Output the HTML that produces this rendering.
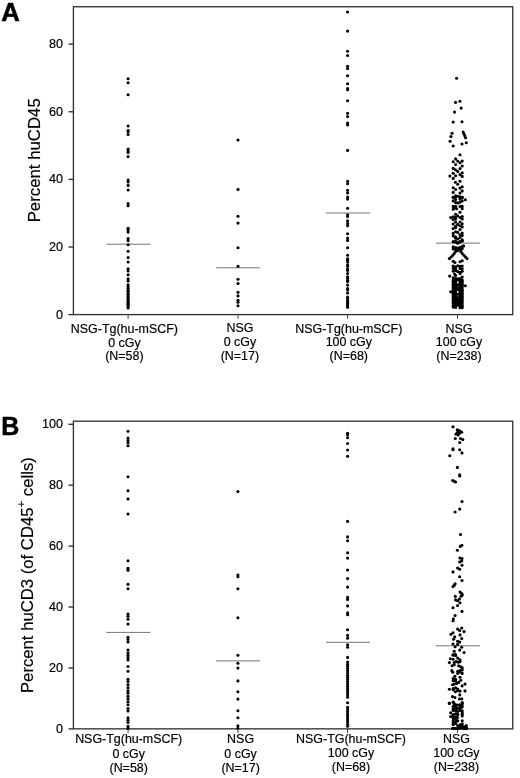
<!DOCTYPE html>
<html lang="en"><head><meta charset="utf-8"><title>Figure</title>
<style>html,body{margin:0;padding:0;background:#fff}svg{display:block}</style></head>
<body>
<svg width="520" height="778" viewBox="0 0 520 778">
<rect width="520" height="778" fill="#fff"/>
<g fill="none" stroke="#333" stroke-width="1.35">
<rect x="73.4" y="6.75" width="439.35" height="307.85"/>
<line x1="68.5" y1="314.6" x2="73.4" y2="314.6"/>
<line x1="68.5" y1="246.98800000000003" x2="73.4" y2="246.98800000000003"/>
<line x1="68.5" y1="179.37600000000003" x2="73.4" y2="179.37600000000003"/>
<line x1="68.5" y1="111.76400000000004" x2="73.4" y2="111.76400000000004"/>
<line x1="68.5" y1="44.152000000000044" x2="73.4" y2="44.152000000000044"/>
<line x1="128.1" y1="314.6" x2="128.1" y2="318.8" stroke-width="1" stroke="#444"/>
<line x1="238.0" y1="314.6" x2="238.0" y2="318.8" stroke-width="1" stroke="#444"/>
<line x1="347.6" y1="314.6" x2="347.6" y2="318.8" stroke-width="1" stroke="#444"/>
<line x1="457.5" y1="314.6" x2="457.5" y2="318.8" stroke-width="1" stroke="#444"/>
<rect x="73.4" y="421.2" width="439.35" height="307.65000000000003"/>
<line x1="68.5" y1="728.85" x2="73.4" y2="728.85"/>
<line x1="68.5" y1="667.94" x2="73.4" y2="667.94"/>
<line x1="68.5" y1="607.03" x2="73.4" y2="607.03"/>
<line x1="68.5" y1="546.12" x2="73.4" y2="546.12"/>
<line x1="68.5" y1="485.21000000000004" x2="73.4" y2="485.21000000000004"/>
<line x1="68.5" y1="424.3" x2="73.4" y2="424.3"/>
<line x1="128.1" y1="728.85" x2="128.1" y2="733.0500000000001" stroke-width="1" stroke="#444"/>
<line x1="238.0" y1="728.85" x2="238.0" y2="733.0500000000001" stroke-width="1" stroke="#444"/>
<line x1="347.6" y1="728.85" x2="347.6" y2="733.0500000000001" stroke-width="1" stroke="#444"/>
<line x1="457.5" y1="728.85" x2="457.5" y2="733.0500000000001" stroke-width="1" stroke="#444"/>
</g>
<line x1="106.3" y1="244.2" x2="150.3" y2="244.2" stroke="#5c5c5c" stroke-width="0.85"/>
<line x1="216.2" y1="267.8" x2="260.1" y2="267.8" stroke="#5c5c5c" stroke-width="0.85"/>
<line x1="326" y1="213.0" x2="370" y2="213.0" stroke="#777" stroke-width="1.0"/>
<line x1="436" y1="243.1" x2="480" y2="243.1" stroke="#5c5c5c" stroke-width="0.85"/>
<line x1="106.2" y1="632.4" x2="150.4" y2="632.4" stroke="#5c5c5c" stroke-width="0.85"/>
<line x1="216.2" y1="660.9" x2="260.1" y2="660.9" stroke="#5c5c5c" stroke-width="0.85"/>
<line x1="326" y1="642.3" x2="370" y2="642.3" stroke="#5c5c5c" stroke-width="0.85"/>
<line x1="435.7" y1="645.8" x2="480" y2="645.8" stroke="#5c5c5c" stroke-width="0.85"/>
<g fill="#000">
<circle cx="128.1" cy="78.8" r="1.55"/><circle cx="128.1" cy="82.7" r="1.55"/><circle cx="128.1" cy="94.8" r="1.55"/><circle cx="128.1" cy="126" r="1.55"/><circle cx="128.1" cy="130.6" r="1.55"/><circle cx="128.1" cy="131.8" r="1.55"/><circle cx="128.1" cy="134.5" r="1.55"/><circle cx="128.1" cy="149.1" r="1.55"/><circle cx="128.1" cy="150.9" r="1.55"/><circle cx="128.1" cy="152.5" r="1.55"/><circle cx="128.1" cy="156.6" r="1.55"/><circle cx="128.1" cy="180" r="1.55"/><circle cx="128.1" cy="182" r="1.55"/><circle cx="128.1" cy="185.4" r="1.55"/><circle cx="128.1" cy="190" r="1.55"/><circle cx="128.1" cy="203.6" r="1.55"/><circle cx="128.1" cy="205.8" r="1.55"/><circle cx="128.1" cy="228.3" r="1.55"/><circle cx="128.1" cy="230.1" r="1.55"/><circle cx="128.1" cy="232.1" r="1.55"/><circle cx="128.1" cy="238.6" r="1.55"/><circle cx="128.1" cy="240.6" r="1.55"/><circle cx="128.1" cy="244.8" r="1.55"/><circle cx="128.1" cy="251.2" r="1.55"/><circle cx="128.1" cy="257.6" r="1.55"/><circle cx="128.1" cy="262" r="1.55"/><circle cx="128.1" cy="268.7" r="1.55"/><circle cx="128.1" cy="271" r="1.55"/><circle cx="128.1" cy="274.8" r="1.55"/><circle cx="128.1" cy="278.9" r="1.55"/><circle cx="128.1" cy="280.9" r="1.55"/><circle cx="128.1" cy="284.7" r="1.55"/><circle cx="128.1" cy="286.7" r="1.55"/><circle cx="128.1" cy="288.6" r="1.55"/><circle cx="128.1" cy="290" r="1.55"/><circle cx="128.1" cy="291.2" r="1.55"/><circle cx="128.1" cy="293.4" r="1.55"/><circle cx="128.1" cy="294.6" r="1.55"/><circle cx="128.1" cy="295.8" r="1.55"/><circle cx="128.1" cy="297" r="1.55"/><circle cx="128.1" cy="298.2" r="1.55"/><circle cx="128.1" cy="300.2" r="1.55"/><circle cx="128.1" cy="301.4" r="1.55"/><circle cx="128.1" cy="302.6" r="1.55"/><circle cx="128.1" cy="303.6" r="1.55"/><circle cx="128.1" cy="304.6" r="1.55"/><circle cx="128.1" cy="305.8" r="1.55"/><circle cx="128.1" cy="307" r="1.55"/><circle cx="128.1" cy="308" r="1.55"/>
<circle cx="238.0" cy="140" r="1.55"/><circle cx="238.0" cy="189.4" r="1.55"/><circle cx="238.0" cy="216.3" r="1.55"/><circle cx="238.0" cy="223.1" r="1.55"/><circle cx="238.0" cy="247.7" r="1.55"/><circle cx="238.0" cy="266.2" r="1.55"/><circle cx="238.0" cy="279.2" r="1.55"/><circle cx="238.0" cy="283.5" r="1.55"/><circle cx="238.0" cy="292.3" r="1.55"/><circle cx="238.0" cy="295.9" r="1.55"/><circle cx="238.0" cy="300.3" r="1.55"/><circle cx="238.0" cy="302.3" r="1.55"/><circle cx="238.0" cy="305.8" r="1.55"/>
<circle cx="347.6" cy="12" r="1.55"/><circle cx="347.6" cy="31.1" r="1.55"/><circle cx="347.6" cy="51.3" r="1.55"/><circle cx="347.6" cy="55.5" r="1.55"/><circle cx="347.6" cy="66.3" r="1.55"/><circle cx="347.6" cy="68.6" r="1.55"/><circle cx="347.6" cy="75.8" r="1.55"/><circle cx="347.6" cy="83.7" r="1.55"/><circle cx="347.6" cy="88.6" r="1.55"/><circle cx="347.6" cy="89.7" r="1.55"/><circle cx="347.6" cy="100.7" r="1.55"/><circle cx="347.6" cy="113.2" r="1.55"/><circle cx="347.6" cy="116.6" r="1.55"/><circle cx="347.6" cy="123.1" r="1.55"/><circle cx="347.6" cy="125" r="1.55"/><circle cx="347.6" cy="150.4" r="1.55"/><circle cx="347.6" cy="181.2" r="1.55"/><circle cx="347.6" cy="183.7" r="1.55"/><circle cx="347.6" cy="190.2" r="1.55"/><circle cx="347.6" cy="192.9" r="1.55"/><circle cx="347.6" cy="197.1" r="1.55"/><circle cx="347.6" cy="199.1" r="1.55"/><circle cx="347.6" cy="208.3" r="1.55"/><circle cx="347.6" cy="214.8" r="1.55"/><circle cx="347.6" cy="216.5" r="1.55"/><circle cx="347.6" cy="220.9" r="1.55"/><circle cx="347.6" cy="223.6" r="1.55"/><circle cx="347.6" cy="225.7" r="1.55"/><circle cx="347.6" cy="233.8" r="1.55"/><circle cx="347.6" cy="238.1" r="1.55"/><circle cx="347.6" cy="240.4" r="1.55"/><circle cx="347.6" cy="247.8" r="1.55"/><circle cx="347.6" cy="255.2" r="1.55"/><circle cx="347.6" cy="258.7" r="1.55"/><circle cx="347.6" cy="260.3" r="1.55"/><circle cx="347.6" cy="262" r="1.55"/><circle cx="347.6" cy="264.7" r="1.55"/><circle cx="347.6" cy="266.2" r="1.55"/><circle cx="347.6" cy="269.1" r="1.55"/><circle cx="347.6" cy="270.5" r="1.55"/><circle cx="347.6" cy="273.5" r="1.55"/><circle cx="347.6" cy="276.8" r="1.55"/><circle cx="347.6" cy="278.2" r="1.55"/><circle cx="347.6" cy="280.3" r="1.55"/><circle cx="347.6" cy="281.5" r="1.55"/><circle cx="347.6" cy="285.1" r="1.55"/><circle cx="347.6" cy="288.6" r="1.55"/><circle cx="347.6" cy="290" r="1.55"/><circle cx="347.6" cy="293" r="1.55"/><circle cx="347.6" cy="297" r="1.55"/><circle cx="347.6" cy="298.5" r="1.55"/><circle cx="347.6" cy="300.6" r="1.55"/><circle cx="347.6" cy="302" r="1.55"/><circle cx="347.6" cy="303.4" r="1.55"/><circle cx="347.6" cy="304.8" r="1.55"/><circle cx="347.6" cy="306" r="1.55"/><circle cx="347.6" cy="307.2" r="1.55"/>
<circle cx="456.6" cy="78.2" r="1.55"/><circle cx="455.5" cy="102.4" r="1.55"/><circle cx="459.9" cy="101.3" r="1.55"/><circle cx="461.2" cy="108.1" r="1.55"/><circle cx="454.5" cy="112.1" r="1.55"/><circle cx="453.2" cy="122.1" r="1.55"/><circle cx="462" cy="121.7" r="1.55"/><circle cx="452.1" cy="133.2" r="1.55"/><circle cx="463.2" cy="132.1" r="1.55"/><circle cx="464" cy="134" r="1.55"/><circle cx="464.8" cy="135.8" r="1.55"/><circle cx="465.6" cy="137.8" r="1.55"/><circle cx="450.9" cy="136.6" r="1.55"/><circle cx="450.1" cy="141.2" r="1.55"/><circle cx="466.3" cy="142.8" r="1.55"/><circle cx="462" cy="144" r="1.55"/><circle cx="453.2" cy="146" r="1.55"/><circle cx="460.0" cy="154.7" r="1.55"/><circle cx="455.6" cy="158.9" r="1.55"/><circle cx="453.2" cy="161.8" r="1.55"/><circle cx="457.7" cy="161.1" r="1.55"/><circle cx="462.2" cy="161.1" r="1.55"/><circle cx="460.0" cy="162.8" r="1.55"/><circle cx="455.6" cy="164.6" r="1.55"/><circle cx="462.2" cy="166.0" r="1.55"/><circle cx="453.2" cy="168.4" r="1.55"/><circle cx="460.0" cy="168.6" r="1.55"/><circle cx="455.4" cy="169.8" r="1.55"/><circle cx="457.7" cy="171.4" r="1.55"/><circle cx="453.2" cy="173.2" r="1.55"/><circle cx="462.2" cy="172.7" r="1.55"/><circle cx="460.0" cy="174.6" r="1.55"/><circle cx="449.9" cy="176.1" r="1.55"/><circle cx="455.6" cy="175.8" r="1.55"/><circle cx="462.2" cy="176.4" r="1.55"/><circle cx="453.2" cy="178.4" r="1.55"/><circle cx="460.0" cy="181.2" r="1.55"/><circle cx="455.4" cy="182.2" r="1.55"/><circle cx="457.7" cy="184.3" r="1.55"/><circle cx="462.2" cy="186.8" r="1.55"/><circle cx="453.2" cy="187.8" r="1.55"/><circle cx="460.0" cy="188.1" r="1.55"/><circle cx="455.6" cy="189.5" r="1.55"/><circle cx="462.2" cy="190.9" r="1.55"/><circle cx="453.2" cy="192.4" r="1.55"/><circle cx="460.0" cy="193.1" r="1.55"/><circle cx="455.6" cy="195.8" r="1.55"/><circle cx="457.7" cy="196.3" r="1.55"/><circle cx="453.2" cy="197.3" r="1.55"/><circle cx="462.2" cy="197.2" r="1.55"/><circle cx="460.0" cy="197.9" r="1.55"/><circle cx="453.2" cy="197.4" r="1.55"/><circle cx="455.6" cy="196.7" r="1.55"/><circle cx="460.0" cy="196.7" r="1.55"/><circle cx="462.2" cy="197.4" r="1.55"/><circle cx="453.2" cy="200.9" r="1.55"/><circle cx="462.2" cy="200.9" r="1.55"/><circle cx="455.6" cy="202.6" r="1.55"/><circle cx="457.7" cy="202.9" r="1.55"/><circle cx="460.0" cy="202.2" r="1.55"/><circle cx="465.3" cy="199.8" r="1.55"/><circle cx="455.6" cy="199.5" r="1.55"/><circle cx="460.1" cy="199.1" r="1.55"/><circle cx="453.2" cy="206.4" r="1.55"/><circle cx="455.6" cy="206.4" r="1.55"/><circle cx="460.0" cy="206.4" r="1.55"/><circle cx="462.2" cy="206.4" r="1.55"/><circle cx="453.2" cy="209.2" r="1.55"/><circle cx="456.6" cy="208.8" r="1.55"/><circle cx="462.2" cy="208.8" r="1.55"/><circle cx="454.2" cy="207.8" r="1.55"/><circle cx="460.0" cy="212.3" r="1.55"/><circle cx="455.6" cy="214.2" r="1.55"/><circle cx="457.7" cy="215.8" r="1.55"/><circle cx="453.2" cy="216.8" r="1.55"/><circle cx="450.7" cy="217.6" r="1.55"/><circle cx="455.6" cy="217.2" r="1.55"/><circle cx="462.2" cy="216.5" r="1.55"/><circle cx="460.0" cy="217.5" r="1.55"/><circle cx="462.2" cy="218.9" r="1.55"/><circle cx="453.2" cy="219.6" r="1.55"/><circle cx="455.6" cy="218.9" r="1.55"/><circle cx="455.6" cy="222.0" r="1.55"/><circle cx="460.0" cy="222.0" r="1.55"/><circle cx="453.2" cy="224.1" r="1.55"/><circle cx="462.2" cy="223.7" r="1.55"/><circle cx="457.7" cy="224.4" r="1.55"/><circle cx="455.6" cy="226.2" r="1.55"/><circle cx="460.0" cy="225.8" r="1.55"/><circle cx="462.2" cy="226.9" r="1.55"/><circle cx="453.2" cy="228.6" r="1.55"/><circle cx="455.6" cy="227.6" r="1.55"/><circle cx="460.0" cy="229.6" r="1.55"/><circle cx="455.6" cy="231.7" r="1.55"/><circle cx="453.2" cy="233.4" r="1.55"/><circle cx="457.7" cy="232.4" r="1.55"/><circle cx="462.2" cy="233.1" r="1.55"/><circle cx="453.2" cy="235.9" r="1.55"/><circle cx="455.6" cy="236.9" r="1.55"/><circle cx="460.0" cy="234.8" r="1.55"/><circle cx="462.2" cy="235.5" r="1.55"/><circle cx="460.0" cy="237.6" r="1.55"/><circle cx="457.7" cy="239.0" r="1.55"/><circle cx="462.2" cy="239.7" r="1.55"/><circle cx="455.6" cy="238.3" r="1.55"/><circle cx="453.2" cy="241.8" r="1.55"/><circle cx="455.6" cy="242.1" r="1.55"/><circle cx="457.7" cy="243.2" r="1.55"/><circle cx="460.0" cy="242.1" r="1.55"/><circle cx="462.2" cy="241.1" r="1.55"/><circle cx="453.2" cy="241.7" r="1.55"/><circle cx="455.6" cy="241.4" r="1.55"/><circle cx="460.0" cy="241.5" r="1.55"/><circle cx="462.2" cy="240.7" r="1.55"/><circle cx="457.7" cy="242.8" r="1.55"/><circle cx="453.2" cy="246.9" r="1.55"/><circle cx="455.6" cy="247.6" r="1.55"/><circle cx="457.7" cy="248.0" r="1.55"/><circle cx="460.0" cy="247.3" r="1.55"/><circle cx="462.2" cy="246.6" r="1.55"/><circle cx="463.6" cy="245.9" r="1.55"/><circle cx="453.2" cy="249.0" r="1.55"/><circle cx="455.6" cy="248.9" r="1.55"/><circle cx="457.7" cy="249.4" r="1.55"/><circle cx="460.0" cy="249.0" r="1.55"/><circle cx="462.2" cy="248.7" r="1.55"/><circle cx="457.7" cy="250.4" r="1.55"/><circle cx="455.6" cy="251.4" r="1.55"/><circle cx="454.2" cy="253.5" r="1.55"/><circle cx="452.8" cy="255.3" r="1.55"/><circle cx="451.1" cy="257.0" r="1.55"/><circle cx="449.4" cy="258.6" r="1.55"/><circle cx="460.8" cy="251.4" r="1.55"/><circle cx="462.2" cy="253.5" r="1.55"/><circle cx="463.9" cy="255.3" r="1.55"/><circle cx="465.5" cy="257.0" r="1.55"/><circle cx="467.0" cy="258.6" r="1.55"/><circle cx="453.2" cy="261.2" r="1.55"/><circle cx="454.9" cy="262.5" r="1.55"/><circle cx="460.1" cy="261.8" r="1.55"/><circle cx="462.2" cy="260.8" r="1.55"/><circle cx="453.2" cy="266.0" r="1.55"/><circle cx="455.6" cy="266.7" r="1.55"/><circle cx="457.7" cy="265.7" r="1.55"/><circle cx="460.0" cy="266.4" r="1.55"/><circle cx="462.2" cy="266.0" r="1.55"/><circle cx="453.2" cy="268.4" r="1.55"/><circle cx="455.6" cy="269.1" r="1.55"/><circle cx="460.0" cy="268.4" r="1.55"/><circle cx="462.2" cy="268.8" r="1.55"/><circle cx="453.2" cy="271.2" r="1.55"/><circle cx="455.6" cy="270.5" r="1.55"/><circle cx="457.7" cy="271.6" r="1.55"/><circle cx="460.0" cy="272.2" r="1.55"/><circle cx="462.2" cy="271.2" r="1.55"/><circle cx="460.1" cy="273.6" r="1.55"/><circle cx="455.6" cy="275.4" r="1.55"/><circle cx="449.7" cy="276.1" r="1.55"/><circle cx="454.6" cy="274.0" r="1.55"/><circle cx="453.2" cy="277.8" r="1.55"/><circle cx="455.6" cy="278.5" r="1.55"/><circle cx="457.7" cy="278.8" r="1.55"/><circle cx="460.0" cy="278.5" r="1.55"/><circle cx="462.2" cy="277.1" r="1.55"/><circle cx="465.3" cy="285.8" r="1.55"/><circle cx="450.7" cy="291.7" r="1.55"/><circle cx="453.2" cy="279.8" r="1.55"/><circle cx="453.2" cy="281.2" r="1.55"/><circle cx="453.2" cy="282.9" r="1.55"/><circle cx="453.2" cy="284.2" r="1.55"/><circle cx="453.2" cy="285.8" r="1.55"/><circle cx="453.2" cy="287.3" r="1.55"/><circle cx="453.2" cy="288.7" r="1.55"/><circle cx="453.2" cy="290.3" r="1.55"/><circle cx="453.2" cy="291.7" r="1.55"/><circle cx="453.2" cy="293.2" r="1.55"/><circle cx="453.2" cy="294.6" r="1.55"/><circle cx="453.2" cy="296.0" r="1.55"/><circle cx="453.2" cy="297.5" r="1.55"/><circle cx="453.2" cy="299.2" r="1.55"/><circle cx="453.2" cy="300.7" r="1.55"/><circle cx="453.2" cy="302.1" r="1.55"/><circle cx="453.2" cy="303.7" r="1.55"/><circle cx="453.2" cy="305.5" r="1.55"/><circle cx="453.2" cy="307.1" r="1.55"/><circle cx="455.5" cy="280.2" r="1.55"/><circle cx="455.5" cy="281.6" r="1.55"/><circle cx="455.5" cy="283.3" r="1.55"/><circle cx="455.5" cy="284.8" r="1.55"/><circle cx="455.5" cy="286.2" r="1.55"/><circle cx="455.5" cy="287.6" r="1.55"/><circle cx="455.5" cy="289.1" r="1.55"/><circle cx="455.5" cy="290.8" r="1.55"/><circle cx="455.5" cy="292.2" r="1.55"/><circle cx="455.5" cy="293.8" r="1.55"/><circle cx="455.5" cy="295.5" r="1.55"/><circle cx="455.5" cy="297.0" r="1.55"/><circle cx="455.5" cy="298.6" r="1.55"/><circle cx="455.5" cy="300.0" r="1.55"/><circle cx="455.5" cy="301.3" r="1.55"/><circle cx="455.5" cy="302.8" r="1.55"/><circle cx="455.5" cy="304.4" r="1.55"/><circle cx="455.5" cy="306.0" r="1.55"/><circle cx="455.5" cy="307.5" r="1.55"/><circle cx="457.7" cy="279.9" r="1.55"/><circle cx="457.7" cy="284.7" r="1.55"/><circle cx="457.7" cy="287.8" r="1.55"/><circle cx="457.7" cy="289.4" r="1.55"/><circle cx="457.7" cy="294.3" r="1.55"/><circle cx="457.7" cy="297.5" r="1.55"/><circle cx="457.7" cy="299.0" r="1.55"/><circle cx="457.7" cy="300.7" r="1.55"/><circle cx="457.7" cy="302.1" r="1.55"/><circle cx="457.7" cy="303.7" r="1.55"/><circle cx="457.7" cy="305.1" r="1.55"/><circle cx="460.0" cy="280.1" r="1.55"/><circle cx="460.0" cy="281.7" r="1.55"/><circle cx="460.0" cy="283.4" r="1.55"/><circle cx="460.0" cy="284.9" r="1.55"/><circle cx="460.0" cy="286.6" r="1.55"/><circle cx="460.0" cy="288.2" r="1.55"/><circle cx="460.0" cy="289.8" r="1.55"/><circle cx="460.0" cy="291.3" r="1.55"/><circle cx="460.0" cy="293.1" r="1.55"/><circle cx="460.0" cy="294.9" r="1.55"/><circle cx="460.0" cy="296.4" r="1.55"/><circle cx="460.0" cy="298.1" r="1.55"/><circle cx="460.0" cy="299.4" r="1.55"/><circle cx="460.0" cy="301.1" r="1.55"/><circle cx="460.0" cy="302.7" r="1.55"/><circle cx="460.0" cy="304.5" r="1.55"/><circle cx="460.0" cy="306.3" r="1.55"/><circle cx="460.0" cy="307.7" r="1.55"/><circle cx="462.2" cy="280.0" r="1.55"/><circle cx="462.2" cy="281.4" r="1.55"/><circle cx="462.2" cy="282.9" r="1.55"/><circle cx="462.2" cy="284.3" r="1.55"/><circle cx="462.2" cy="285.7" r="1.55"/><circle cx="462.2" cy="287.1" r="1.55"/><circle cx="462.2" cy="288.8" r="1.55"/><circle cx="462.2" cy="290.2" r="1.55"/><circle cx="462.2" cy="291.7" r="1.55"/><circle cx="462.2" cy="293.2" r="1.55"/><circle cx="462.2" cy="295.0" r="1.55"/><circle cx="462.2" cy="296.3" r="1.55"/><circle cx="462.2" cy="297.9" r="1.55"/><circle cx="462.2" cy="299.5" r="1.55"/><circle cx="462.2" cy="301.2" r="1.55"/><circle cx="462.2" cy="303.0" r="1.55"/><circle cx="462.2" cy="304.7" r="1.55"/><circle cx="462.2" cy="306.2" r="1.55"/><circle cx="462.2" cy="307.7" r="1.55"/>
<circle cx="128.0" cy="431.2" r="1.55"/><circle cx="128.0" cy="438.1" r="1.55"/><circle cx="128.0" cy="440.4" r="1.55"/><circle cx="128.0" cy="442.7" r="1.55"/><circle cx="128.0" cy="445.8" r="1.55"/><circle cx="128.0" cy="476.7" r="1.55"/><circle cx="128.0" cy="490.8" r="1.55"/><circle cx="128.0" cy="499" r="1.55"/><circle cx="128.0" cy="514" r="1.55"/><circle cx="128.0" cy="560.8" r="1.55"/><circle cx="128.0" cy="568.2" r="1.55"/><circle cx="128.0" cy="570.2" r="1.55"/><circle cx="128.0" cy="584.3" r="1.55"/><circle cx="128.0" cy="588.7" r="1.55"/><circle cx="128.0" cy="614.1" r="1.55"/><circle cx="128.0" cy="616.3" r="1.55"/><circle cx="128.0" cy="619.3" r="1.55"/><circle cx="128.0" cy="624" r="1.55"/><circle cx="128.0" cy="637.3" r="1.55"/><circle cx="128.0" cy="639.6" r="1.55"/><circle cx="128.0" cy="642" r="1.55"/><circle cx="128.0" cy="650" r="1.55"/><circle cx="128.0" cy="653.1" r="1.55"/><circle cx="128.0" cy="655.4" r="1.55"/><circle cx="128.0" cy="657.7" r="1.55"/><circle cx="128.0" cy="660" r="1.55"/><circle cx="128.0" cy="666.5" r="1.55"/><circle cx="128.0" cy="671.3" r="1.55"/><circle cx="128.0" cy="679.3" r="1.55"/><circle cx="128.0" cy="681.6" r="1.55"/><circle cx="128.0" cy="684.7" r="1.55"/><circle cx="128.0" cy="687.8" r="1.55"/><circle cx="128.0" cy="690.9" r="1.55"/><circle cx="128.0" cy="693.2" r="1.55"/><circle cx="128.0" cy="696.3" r="1.55"/><circle cx="128.0" cy="698.9" r="1.55"/><circle cx="128.0" cy="701.7" r="1.55"/><circle cx="128.0" cy="704.8" r="1.55"/><circle cx="128.0" cy="708.6" r="1.55"/><circle cx="128.0" cy="711" r="1.55"/><circle cx="128.0" cy="717.9" r="1.55"/><circle cx="128.0" cy="720.2" r="1.55"/><circle cx="128.0" cy="722.5" r="1.55"/><circle cx="128.0" cy="726.4" r="1.55"/><circle cx="128.0" cy="728.4" r="1.55"/>
<circle cx="237.9" cy="491.6" r="1.55"/><circle cx="237.9" cy="575.1" r="1.55"/><circle cx="237.9" cy="576.8" r="1.55"/><circle cx="237.9" cy="588.8" r="1.55"/><circle cx="237.9" cy="617.8" r="1.55"/><circle cx="237.9" cy="655.2" r="1.55"/><circle cx="237.9" cy="663.3" r="1.55"/><circle cx="237.9" cy="668.1" r="1.55"/><circle cx="237.9" cy="680.9" r="1.55"/><circle cx="237.9" cy="691.8" r="1.55"/><circle cx="237.9" cy="699.1" r="1.55"/><circle cx="237.9" cy="710.8" r="1.55"/><circle cx="237.9" cy="717.8" r="1.55"/><circle cx="237.9" cy="725.7" r="1.55"/><circle cx="237.9" cy="728.3" r="1.55"/>
<circle cx="347.6" cy="433.2" r="1.55"/><circle cx="347.6" cy="435" r="1.55"/><circle cx="347.6" cy="437.8" r="1.55"/><circle cx="347.6" cy="443.5" r="1.55"/><circle cx="347.6" cy="450" r="1.55"/><circle cx="347.6" cy="456.3" r="1.55"/><circle cx="347.6" cy="521.4" r="1.55"/><circle cx="347.6" cy="536.9" r="1.55"/><circle cx="347.6" cy="540.7" r="1.55"/><circle cx="347.6" cy="552.7" r="1.55"/><circle cx="347.6" cy="558.1" r="1.55"/><circle cx="347.6" cy="570" r="1.55"/><circle cx="347.6" cy="578.6" r="1.55"/><circle cx="347.6" cy="587.1" r="1.55"/><circle cx="347.6" cy="597.4" r="1.55"/><circle cx="347.6" cy="599.5" r="1.55"/><circle cx="347.6" cy="605.9" r="1.55"/><circle cx="347.6" cy="612.9" r="1.55"/><circle cx="347.6" cy="614.7" r="1.55"/><circle cx="347.6" cy="629.8" r="1.55"/><circle cx="347.6" cy="635.4" r="1.55"/><circle cx="347.6" cy="638.2" r="1.55"/><circle cx="347.6" cy="644.8" r="1.55"/><circle cx="347.6" cy="647.3" r="1.55"/><circle cx="347.6" cy="657.4" r="1.55"/><circle cx="347.6" cy="662" r="1.55"/><circle cx="347.6" cy="664.2" r="1.55"/><circle cx="347.6" cy="666.4" r="1.55"/><circle cx="347.6" cy="668.6" r="1.55"/><circle cx="347.6" cy="670.8" r="1.55"/><circle cx="347.6" cy="673.0" r="1.55"/><circle cx="347.6" cy="675.2" r="1.55"/><circle cx="347.6" cy="677.4" r="1.55"/><circle cx="347.6" cy="679.6" r="1.55"/><circle cx="347.6" cy="681.8" r="1.55"/><circle cx="347.6" cy="684.0" r="1.55"/><circle cx="347.6" cy="686.2" r="1.55"/><circle cx="347.6" cy="688.4" r="1.55"/><circle cx="347.6" cy="690.6" r="1.55"/><circle cx="347.6" cy="692.8" r="1.55"/><circle cx="347.6" cy="695.0" r="1.55"/><circle cx="347.6" cy="697.2" r="1.55"/><circle cx="347.6" cy="702.8" r="1.55"/><circle cx="347.6" cy="707.4" r="1.55"/><circle cx="347.6" cy="709.5" r="1.55"/><circle cx="347.6" cy="711.6" r="1.55"/><circle cx="347.6" cy="713.7" r="1.55"/><circle cx="347.6" cy="715.8" r="1.55"/><circle cx="347.6" cy="717.9" r="1.55"/><circle cx="347.6" cy="720.0" r="1.55"/><circle cx="347.6" cy="722.1" r="1.55"/><circle cx="347.6" cy="724.2" r="1.55"/><circle cx="347.6" cy="726.3" r="1.55"/>
<circle cx="453" cy="426.8" r="1.55"/><circle cx="457.3" cy="429.8" r="1.55"/><circle cx="458.8" cy="430.6" r="1.55"/><circle cx="460.5" cy="431.4" r="1.55"/><circle cx="461.7" cy="432.3" r="1.55"/><circle cx="457.6" cy="432.3" r="1.55"/><circle cx="459.4" cy="433.3" r="1.55"/><circle cx="455.9" cy="434.1" r="1.55"/><circle cx="458.2" cy="434.9" r="1.55"/><circle cx="455.3" cy="438.5" r="1.55"/><circle cx="460.5" cy="438.5" r="1.55"/><circle cx="462.8" cy="439.6" r="1.55"/><circle cx="459.7" cy="442.5" r="1.55"/><circle cx="453" cy="448.9" r="1.55"/><circle cx="453" cy="449.7" r="1.55"/><circle cx="459.7" cy="449.7" r="1.55"/><circle cx="462" cy="452.9" r="1.55"/><circle cx="449.8" cy="455.7" r="1.55"/><circle cx="457.4" cy="467.4" r="1.55"/><circle cx="459.7" cy="474.9" r="1.55"/><circle cx="459.7" cy="476" r="1.55"/><circle cx="452.7" cy="480.5" r="1.55"/><circle cx="454.2" cy="481.2" r="1.55"/><circle cx="455.6" cy="482" r="1.55"/><circle cx="462" cy="501.6" r="1.55"/><circle cx="459.7" cy="509.1" r="1.55"/><circle cx="455.1" cy="512" r="1.55"/><circle cx="460.5" cy="534.5" r="1.55"/><circle cx="461.9" cy="545.3" r="1.55"/><circle cx="460.3" cy="546.4" r="1.55"/><circle cx="457.4" cy="550.3" r="1.55"/><circle cx="459.9" cy="558" r="1.55"/><circle cx="462" cy="558.6" r="1.55"/><circle cx="461.7" cy="560.9" r="1.55"/><circle cx="459.7" cy="562" r="1.55"/><circle cx="462" cy="565.3" r="1.55"/><circle cx="457.6" cy="568" r="1.55"/><circle cx="459.7" cy="569.3" r="1.55"/><circle cx="453" cy="571.9" r="1.55"/><circle cx="459.7" cy="576.7" r="1.55"/><circle cx="462" cy="580.5" r="1.55"/><circle cx="455.1" cy="583.7" r="1.55"/><circle cx="454.2" cy="585.4" r="1.55"/><circle cx="453" cy="586.6" r="1.55"/><circle cx="460" cy="592.1" r="1.55"/><circle cx="461.7" cy="593.5" r="1.55"/><circle cx="462.3" cy="594.9" r="1.55"/><circle cx="461.1" cy="596.2" r="1.55"/><circle cx="455.3" cy="596.4" r="1.55"/><circle cx="459.4" cy="599" r="1.55"/><circle cx="455.6" cy="599.9" r="1.55"/><circle cx="457.6" cy="600.7" r="1.55"/><circle cx="460" cy="602.7" r="1.55"/><circle cx="457.6" cy="605.6" r="1.55"/><circle cx="453" cy="607.7" r="1.55"/><circle cx="462" cy="611.4" r="1.55"/><circle cx="455.1" cy="615.5" r="1.55"/><circle cx="453.4" cy="618.9" r="1.55"/><circle cx="453" cy="620.7" r="1.55"/><circle cx="461.7" cy="628" r="1.55"/><circle cx="457.6" cy="629.1" r="1.55"/><circle cx="459.7" cy="630.5" r="1.55"/><circle cx="464" cy="631.6" r="1.55"/><circle cx="453" cy="632.8" r="1.55"/><circle cx="450.9" cy="634.3" r="1.55"/><circle cx="460" cy="634.9" r="1.55"/><circle cx="454.7" cy="636.9" r="1.55"/><circle cx="461.7" cy="638.6" r="1.55"/><circle cx="453.6" cy="639.2" r="1.55"/><circle cx="457.6" cy="641.2" r="1.55"/><circle cx="459.7" cy="642.1" r="1.55"/><circle cx="453" cy="644" r="1.55"/><circle cx="457.6" cy="644.4" r="1.55"/><circle cx="455.1" cy="646.7" r="1.55"/><circle cx="461.7" cy="647.3" r="1.55"/><circle cx="459.7" cy="650.1" r="1.55"/><circle cx="454.2" cy="651.3" r="1.55"/><circle cx="464" cy="652.5" r="1.55"/><circle cx="455.3" cy="654.2" r="1.55"/><circle cx="453" cy="654.8" r="1.55"/><circle cx="453.2" cy="655.3" r="1.55"/><circle cx="455.6" cy="655.6" r="1.55"/><circle cx="450.4" cy="658.8" r="1.55"/><circle cx="453.2" cy="659.2" r="1.55"/><circle cx="457.7" cy="658.1" r="1.55"/><circle cx="460.0" cy="659.9" r="1.55"/><circle cx="449.4" cy="662.6" r="1.55"/><circle cx="454.2" cy="662.6" r="1.55"/><circle cx="456.3" cy="661.6" r="1.55"/><circle cx="458.4" cy="662.3" r="1.55"/><circle cx="460.0" cy="661.6" r="1.55"/><circle cx="452.1" cy="665.7" r="1.55"/><circle cx="454.2" cy="664.7" r="1.55"/><circle cx="458.7" cy="665.7" r="1.55"/><circle cx="460.8" cy="666.8" r="1.55"/><circle cx="462.2" cy="667.8" r="1.55"/><circle cx="451.8" cy="670.6" r="1.55"/><circle cx="452.8" cy="672.3" r="1.55"/><circle cx="457.7" cy="671.3" r="1.55"/><circle cx="460.0" cy="670.6" r="1.55"/><circle cx="462.2" cy="669.9" r="1.55"/><circle cx="457.7" cy="673.4" r="1.55"/><circle cx="462.2" cy="673.4" r="1.55"/><circle cx="460.1" cy="672.0" r="1.55"/><circle cx="454.9" cy="676.2" r="1.55"/><circle cx="460.0" cy="677.2" r="1.55"/><circle cx="453.2" cy="678.6" r="1.55"/><circle cx="455.6" cy="679.3" r="1.55"/><circle cx="453.2" cy="680.7" r="1.55"/><circle cx="460.8" cy="680.3" r="1.55"/><circle cx="455.6" cy="680.7" r="1.55"/><circle cx="458.7" cy="682.4" r="1.55"/><circle cx="456.6" cy="683.4" r="1.55"/><circle cx="454.2" cy="684.1" r="1.55"/><circle cx="452.5" cy="684.8" r="1.55"/><circle cx="465.0" cy="684.1" r="1.55"/><circle cx="462.1" cy="685.9" r="1.55"/><circle cx="449.4" cy="689.3" r="1.55"/><circle cx="453.2" cy="688.6" r="1.55"/><circle cx="455.6" cy="687.9" r="1.55"/><circle cx="457.7" cy="689.0" r="1.55"/><circle cx="453.2" cy="689.7" r="1.55"/><circle cx="455.3" cy="691.8" r="1.55"/><circle cx="457.7" cy="690.7" r="1.55"/><circle cx="460.1" cy="691.1" r="1.55"/><circle cx="465.0" cy="690.9" r="1.55"/><circle cx="459.8" cy="694.9" r="1.55"/><circle cx="452.5" cy="696.6" r="1.55"/><circle cx="454.9" cy="697.6" r="1.55"/><circle cx="459.4" cy="699.0" r="1.55"/><circle cx="461.8" cy="698.7" r="1.55"/><circle cx="449.4" cy="703.5" r="1.55"/><circle cx="453.2" cy="702.2" r="1.55"/><circle cx="462.2" cy="702.9" r="1.55"/><circle cx="449.3" cy="703.1" r="1.55"/><circle cx="453.2" cy="702.1" r="1.55"/><circle cx="454.2" cy="703.8" r="1.55"/><circle cx="455.6" cy="704.8" r="1.55"/><circle cx="453.2" cy="706.2" r="1.55"/><circle cx="455.6" cy="706.9" r="1.55"/><circle cx="453.2" cy="708.3" r="1.55"/><circle cx="455.6" cy="709.0" r="1.55"/><circle cx="453.2" cy="710.4" r="1.55"/><circle cx="455.6" cy="710.7" r="1.55"/><circle cx="459.7" cy="704.8" r="1.55"/><circle cx="462.2" cy="702.8" r="1.55"/><circle cx="462.2" cy="704.8" r="1.55"/><circle cx="460.1" cy="706.6" r="1.55"/><circle cx="462.2" cy="706.9" r="1.55"/><circle cx="460.1" cy="708.3" r="1.55"/><circle cx="462.2" cy="710.7" r="1.55"/><circle cx="460.1" cy="710.4" r="1.55"/><circle cx="450.7" cy="712.8" r="1.55"/><circle cx="453.2" cy="714.5" r="1.55"/><circle cx="455.6" cy="713.9" r="1.55"/><circle cx="450.7" cy="716.6" r="1.55"/><circle cx="453.2" cy="716.3" r="1.55"/><circle cx="455.6" cy="717.0" r="1.55"/><circle cx="462.2" cy="712.8" r="1.55"/><circle cx="462.2" cy="714.5" r="1.55"/><circle cx="462.2" cy="715.9" r="1.55"/><circle cx="457.7" cy="714.5" r="1.55"/><circle cx="453.2" cy="718.4" r="1.55"/><circle cx="455.6" cy="719.0" r="1.55"/><circle cx="453.2" cy="720.8" r="1.55"/><circle cx="455.6" cy="721.5" r="1.55"/><circle cx="457.7" cy="720.8" r="1.55"/><circle cx="462.2" cy="720.8" r="1.55"/><circle cx="453.2" cy="722.5" r="1.55"/><circle cx="455.6" cy="723.5" r="1.55"/><circle cx="453.2" cy="724.6" r="1.55"/><circle cx="457.7" cy="725.6" r="1.55"/><circle cx="460.1" cy="724.9" r="1.55"/><circle cx="462.2" cy="723.9" r="1.55"/><circle cx="460.1" cy="726.7" r="1.55"/><circle cx="462.2" cy="726.0" r="1.55"/><circle cx="463.9" cy="726.7" r="1.55"/><circle cx="466.3" cy="725.6" r="1.55"/><circle cx="452.5" cy="728.4" r="1.55"/><circle cx="454.2" cy="728.4" r="1.55"/><circle cx="455.9" cy="728.5" r="1.55"/><circle cx="457.7" cy="728.4" r="1.55"/><circle cx="459.4" cy="728.3" r="1.55"/><circle cx="461.1" cy="728.0" r="1.55"/><circle cx="462.9" cy="728.3" r="1.55"/><circle cx="464.6" cy="728.4" r="1.55"/><circle cx="466.7" cy="728.4" r="1.55"/><circle cx="460.1" cy="727.4" r="1.55"/><circle cx="462.2" cy="727.4" r="1.55"/><circle cx="464.2" cy="727.4" r="1.55"/><circle cx="466.0" cy="727.4" r="1.55"/><circle cx="457.5" cy="705" r="1.55"/><circle cx="457.6" cy="708.4" r="1.55"/><circle cx="457.5" cy="711.6" r="1.55"/><circle cx="457.7" cy="714.2" r="1.55"/><circle cx="457.5" cy="717.5" r="1.55"/><circle cx="457.4" cy="721" r="1.55"/>
</g>
<g font-family="Liberation Sans, Arial, Helvetica, sans-serif" fill="#000" stroke="#000" stroke-width="0.18">
<text x="1.35" y="20.5" font-size="25.7" font-weight="bold" fill="#000" stroke="#000" stroke-width="0.5">A</text>
<text x="1.15" y="434.7" font-size="25" font-weight="bold" fill="#000" stroke="#000" stroke-width="0.5">B</text>
<text x="63.1" y="318.55" font-size="12.6" text-anchor="end">0</text>
<text x="63.1" y="250.93800000000002" font-size="12.6" text-anchor="end">20</text>
<text x="63.1" y="183.32600000000002" font-size="12.6" text-anchor="end">40</text>
<text x="63.1" y="115.71400000000004" font-size="12.6" text-anchor="end">60</text>
<text x="63.1" y="48.10200000000005" font-size="12.6" text-anchor="end">80</text>
<text x="63.1" y="732.8000000000001" font-size="12.6" text-anchor="end">0</text>
<text x="63.1" y="671.8900000000001" font-size="12.6" text-anchor="end">20</text>
<text x="63.1" y="610.98" font-size="12.6" text-anchor="end">40</text>
<text x="63.1" y="550.07" font-size="12.6" text-anchor="end">60</text>
<text x="63.1" y="489.16" font-size="12.6" text-anchor="end">80</text>
<text x="63.1" y="428.25" font-size="12.6" text-anchor="end">100</text>
<text transform="translate(40.0,160.3) rotate(-90)" font-size="16.8" text-anchor="middle">Percent huCD45</text>
<text transform="translate(32.8,575.1) rotate(-90)" font-size="16.7" text-anchor="middle">Percent huCD3 (of CD45<tspan font-size="11.5" dy="-8.1">+</tspan><tspan dy="8.1"> cells)</tspan></text>
<text x="124.4" y="332.75" font-size="12.45" text-anchor="middle">NSG-Tg(hu-mSCF)</text><text x="124.4" y="346.5" font-size="12.45" text-anchor="middle">0 cGy</text><text x="124.4" y="360.3" font-size="12.45" text-anchor="middle">(N=58)</text>
<text x="239.9" y="332.1" font-size="12.45" text-anchor="middle">NSG</text><text x="239.9" y="345.8" font-size="12.45" text-anchor="middle">0 cGy</text><text x="239.9" y="360.0" font-size="12.45" text-anchor="middle">(N=17)</text>
<text x="348.8" y="332.7" font-size="12.45" text-anchor="middle">NSG-Tg(hu-mSCF)</text><text x="348.8" y="345.9" font-size="12.45" text-anchor="middle">100 cGy</text><text x="348.8" y="360.2" font-size="12.45" text-anchor="middle">(N=68)</text>
<text x="459" y="332.6" font-size="12.45" text-anchor="middle">NSG</text><text x="459" y="345.9" font-size="12.45" text-anchor="middle">100 cGy</text><text x="459" y="360.35" font-size="12.45" text-anchor="middle">(N=238)</text>
<text x="128.7" y="743.3" font-size="12.45" text-anchor="middle">NSG-Tg(hu-mSCF)</text><text x="128.7" y="757.95" font-size="12.45" text-anchor="middle">0 cGy</text><text x="128.7" y="771.7" font-size="12.45" text-anchor="middle">(N=58)</text>
<text x="240.6" y="743.15" font-size="12.45" text-anchor="middle">NSG</text><text x="240.6" y="757.55" font-size="12.45" text-anchor="middle">0 cGy</text><text x="240.6" y="771.7" font-size="12.45" text-anchor="middle">(N=17)</text>
<text x="351.0" y="743.0" font-size="12.45" text-anchor="middle">NSG-TG(hu-mSCF)</text><text x="351.0" y="757.1" font-size="12.45" text-anchor="middle">100 cGy</text><text x="351.0" y="771.0" font-size="12.45" text-anchor="middle">(N=68)</text>
<text x="456.4" y="742.9" font-size="12.45" text-anchor="middle">NSG</text><text x="456.4" y="757.05" font-size="12.45" text-anchor="middle">100 cGy</text><text x="456.4" y="771.1" font-size="12.45" text-anchor="middle">(N=238)</text>
</g>
</svg>
</body></html>
